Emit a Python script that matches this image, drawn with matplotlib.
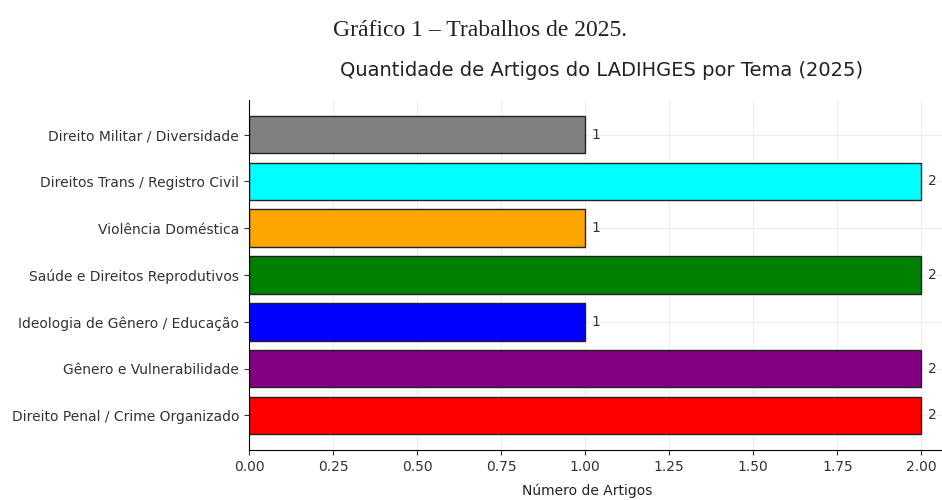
import matplotlib.pyplot as plt

# Themes (bottom to top) and number of articles
temas = ['Direito Penal / Crime Organizado', 'Gênero e Vulnerabilidade',
         'Ideologia de Gênero / Educação', 'Saúde e Direitos Reprodutivos',
         'Violência Doméstica', 'Direitos Trans / Registro Civil',
         'Direito Militar / Diversidade']
quantidade = [2, 2, 1, 2, 1, 2, 1]
cores = ['red', 'purple', 'blue', 'green', 'orange', 'cyan', 'gray']

fig = plt.figure(figsize=(9.42, 5), dpi=100)
ax = fig.add_axes([0.2643, 0.1, 0.7495, 0.7])

bars = ax.barh(temas, quantidade, color=cores, edgecolor='#222222', linewidth=1, zorder=2)
ax.grid(True, color='#e4e4e4', linewidth=0.8, alpha=0.6, zorder=0)

# Value labels next to each bar
for bar, q in zip(bars, quantidade):
    ax.text(bar.get_width() + 0.02, bar.get_y() + bar.get_height() / 2, str(q),
            va='center', ha='left', fontsize=10, color='#333333')

ax.spines['top'].set_visible(False)
ax.spines['right'].set_visible(False)
ax.tick_params(labelsize=10, colors='#333333')
ax.set_xticks([0, 0.25, 0.5, 0.75, 1.0, 1.25, 1.5, 1.75, 2.0])
ax.set_xticklabels([f'{v:.2f}' for v in ax.get_xticks()])
ax.set_xlim(0, 2.1)

ax.set_xlabel('Número de Artigos', fontsize=10, color='#222222')
ax.xaxis.set_label_coords(0.479, -0.095)
ax.set_title('Quantidade de Artigos do LADIHGES por Tema (2025)', fontsize=14,
             color='#222222', pad=17)

fig.text(0.51, 0.938, 'Gráfico 1 – Trabalhos de 2025.', ha='center', va='center',
         fontsize=17, family='Liberation Serif', color='#222222')

fig.savefig('out.png', dpi=100)
